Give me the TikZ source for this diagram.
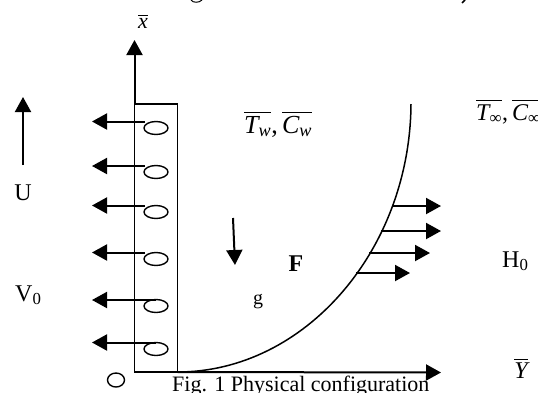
\documentclass[tikz,border=0pt]{standalone}
\usepackage{amsmath}
\usepackage{fontspec}
\setmainfont{Liberation Serif}
\usetikzlibrary{arrows.meta}
\newcommand{\barit}[2]{\overline{\text{\itshape #1}_{\text{#2}}}}
\tikzset{
  bigarrow/.style={-{Triangle[length=15pt,width=16pt]}, line width=2pt},
  wall/.style={line width=1.4pt},
  hole/.style={line width=1.4pt},
  lbl/.style={font=\fontsize{24}{24}\selectfont, inner sep=0pt}
}
\begin{document}
\begin{tikzpicture}[x=1pt,y=-1pt]
        \useasboundingbox (0,0) rectangle (538,392);

        % Points du mur
        \coordinate (A) at (134.5,372);
        \coordinate (B) at (177.5,372);
        \coordinate (C) at (177.5,104);
        \coordinate (D) at (134.5,104);
        \coordinate (E) at (411,104);

        % Mur
        \draw[wall] (A) -- (B) -- (C) -- (D) -- cycle;

        % Axes
        \coordinate (Xtip) at (134.5,40);
        \coordinate (Ytip) at (441,372.5);
        \draw[bigarrow] (D) -- (Xtip);
        \draw[bigarrow] (B) -- (Ytip);
        \node[lbl,font=\fontsize{22}{22}\selectfont] (xbar) at (143,21) {$\overline{\text{\itshape x}}$};
        \node[lbl] (ybar) at (521,368) {$\overline{\text{\itshape Y}}$};

        % Couche limite
        \draw[line width=1.5pt] (B) .. controls (305,372) and (410,250) .. (E);

        % Aspiration
        \foreach \yy/\xx in {121.5/145,166/145,205.5/145,252.5/145,300/156,342.5/156} {
          \coordinate (S) at (\xx,\yy);
          \coordinate (T) at (92,\yy);
          \draw[bigarrow] (S) -- (T);
        }
        \foreach \yy in {128,172,212,259,306,349} {
          \draw[hole] (156,\yy) ellipse (12 and 6.5);
        }

        % Profil de vitesse
        \foreach \yy/\xx/\tip in {206/392/441,231/381/441,253/369/430,273/356/410} {
          \coordinate (S) at (\xx,\yy);
          \coordinate (T) at (\tip,\yy);
          \draw[bigarrow] (S) -- (T);
        }

        % Vitesse U et gravite
        \coordinate (Ua) at (23,165);
        \coordinate (Ub) at (23,97);
        \draw[bigarrow] (Ua) -- (Ub);
        \coordinate (Ga) at (233,218);
        \coordinate (Gb) at (235,265);
        \draw[bigarrow] (Ga) -- (Gb);

        % Origine
        \draw[line width=1.4pt] (116,380) ellipse (8.5 and 7);

        % Restes du texte coupe en haut
        \draw[line width=1pt] (191,0) .. controls (193,3) and (199,3) .. (202,0);
        \draw[line width=1.5pt] (465,0) -- (462,3);

        % Textes
        \node[lbl] (U) at (23,193) {U};
        \node[lbl,anchor=base west] (V) at (15,301) {V\textsubscript{0}};
        \node[lbl,anchor=base west] (H) at (502,267) {H\textsubscript{0}};
        \node[lbl,font=\bfseries\fontsize{24}{24}\selectfont] (F) at (296,264) {F};
        \node[lbl,font=\fontsize{20}{20}\selectfont] (g) at (258,302) {g};
        \node[lbl,font=\fontsize{26}{26}\selectfont,anchor=base west] (Tw) at (244,133) {$\barit{T}{\itshape w}$\text{,}\,$\barit{C}{\itshape w}$};
        \node[lbl,anchor=base west] (Tinf) at (476,120) {$\barit{T}{∞}$\text{,}\,$\barit{C}{∞}$};
        \node[lbl,font=\fontsize{22}{22}\selectfont,anchor=base west] (cap) at (172,391) {Fig. 1 Physical configuration};
    \end{tikzpicture}
\end{document}
